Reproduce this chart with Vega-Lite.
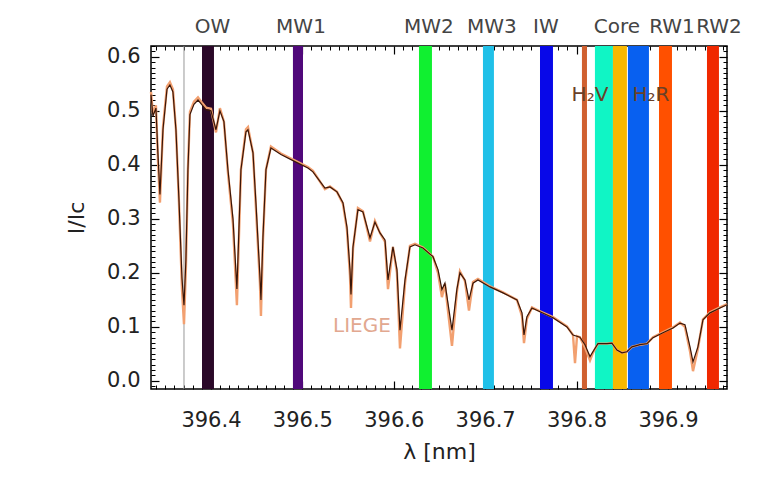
{
  "$schema": "https://vega.github.io/schema/vega-lite/v6.json",
  "width": 576,
  "height": 343,
  "autosize": {"type": "none"},
  "padding": {"left": 151, "top": 46, "right": 44, "bottom": 99},
  "background": "white",
  "config": {
    "view": {"stroke": "black", "strokeWidth": 1.5},
    "axis": {
      "labelFont": "DejaVu Sans", "titleFont": "DejaVu Sans", "grid": false,
      "domain": false, "tickColor": "#000",
      "labelColor": "#222", "titleColor": "#222", "labelFontSize": 21,
      "titleFontSize": 22, "titleFontWeight": "normal", "zindex": 1
    },
    "text": {"font": "DejaVu Sans"}
  },
  "datasets": {
    "obs": [
      {"w":396.3344,"v":0.530},{"w":396.3365,"v":0.490},{"w":396.3398,"v":0.505},{"w":396.3420,"v":0.420},{"w":396.3442,"v":0.345},{"w":396.3475,"v":0.465},{"w":396.3519,"v":0.540},{"w":396.3551,"v":0.548},{"w":396.3584,"v":0.535},{"w":396.3617,"v":0.465},{"w":396.3650,"v":0.335},{"w":396.3683,"v":0.190},{"w":396.3705,"v":0.140},{"w":396.3726,"v":0.224},{"w":396.3748,"v":0.391},{"w":396.3770,"v":0.493},{"w":396.3814,"v":0.512},{"w":396.3858,"v":0.520},{"w":396.3902,"v":0.511},{"w":396.3945,"v":0.502},{"w":396.4000,"v":0.500},{"w":396.4055,"v":0.465},{"w":396.4098,"v":0.500},{"w":396.4142,"v":0.480},{"w":396.4186,"v":0.391},{"w":396.4241,"v":0.300},{"w":396.4284,"v":0.170},{"w":396.4328,"v":0.391},{"w":396.4383,"v":0.461},{"w":396.4405,"v":0.465},{"w":396.4460,"v":0.422},{"w":396.4492,"v":0.330},{"w":396.4536,"v":0.193},{"w":396.4547,"v":0.150},{"w":396.4569,"v":0.267},{"w":396.4602,"v":0.391},{"w":396.4656,"v":0.431},{"w":396.4766,"v":0.419},{"w":396.4919,"v":0.406},{"w":396.5061,"v":0.394},{"w":396.5116,"v":0.387},{"w":396.5247,"v":0.357},{"w":396.5302,"v":0.359},{"w":396.5379,"v":0.350},{"w":396.5444,"v":0.330},{"w":396.5488,"v":0.285},{"w":396.5521,"v":0.206},{"w":396.5532,"v":0.160},{"w":396.5554,"v":0.248},{"w":396.5608,"v":0.317},{"w":396.5663,"v":0.313},{"w":396.5740,"v":0.265},{"w":396.5794,"v":0.294},{"w":396.5849,"v":0.274},{"w":396.5904,"v":0.261},{"w":396.5937,"v":0.187},{"w":396.5991,"v":0.248},{"w":396.6035,"v":0.206},{"w":396.6068,"v":0.094},{"w":396.6123,"v":0.187},{"w":396.6177,"v":0.248},{"w":396.6232,"v":0.252},{"w":396.6319,"v":0.246},{"w":396.6429,"v":0.230},{"w":396.6484,"v":0.206},{"w":396.6527,"v":0.169},{"w":396.6560,"v":0.181},{"w":396.6593,"v":0.144},{"w":396.6637,"v":0.094},{"w":396.6691,"v":0.170},{"w":396.6724,"v":0.200},{"w":396.6779,"v":0.187},{"w":396.6823,"v":0.150},{"w":396.6867,"v":0.181},{"w":396.6921,"v":0.187},{"w":396.7053,"v":0.174},{"w":396.7195,"v":0.163},{"w":396.7348,"v":0.150},{"w":396.7403,"v":0.126},{"w":396.7425,"v":0.085},{"w":396.7457,"v":0.119},{"w":396.7512,"v":0.135},{"w":396.7600,"v":0.128},{"w":396.7742,"v":0.117},{"w":396.7895,"v":0.100},{"w":396.7961,"v":0.085},{"w":396.8037,"v":0.081},{"w":396.8092,"v":0.067},{"w":396.8147,"v":0.045},{"w":396.8179,"v":0.054},{"w":396.8234,"v":0.069},{"w":396.8333,"v":0.069},{"w":396.8387,"v":0.070},{"w":396.8442,"v":0.057},{"w":396.8497,"v":0.052},{"w":396.8551,"v":0.054},{"w":396.8606,"v":0.063},{"w":396.8694,"v":0.067},{"w":396.8770,"v":0.069},{"w":396.8836,"v":0.080},{"w":396.8945,"v":0.089},{"w":396.9055,"v":0.098},{"w":396.9131,"v":0.107},{"w":396.9186,"v":0.104},{"w":396.9241,"v":0.063},{"w":396.9274,"v":0.035},{"w":396.9328,"v":0.063},{"w":396.9383,"v":0.113},{"w":396.9460,"v":0.126},{"w":396.9569,"v":0.135},{"w":396.9646,"v":0.141}
    ],
    "liege": [
      {"w":396.3344,"v":0.535},{"w":396.3365,"v":0.495},{"w":396.3398,"v":0.510},{"w":396.3420,"v":0.410},{"w":396.3442,"v":0.330},{"w":396.3475,"v":0.470},{"w":396.3519,"v":0.545},{"w":396.3551,"v":0.553},{"w":396.3584,"v":0.540},{"w":396.3617,"v":0.465},{"w":396.3650,"v":0.330},{"w":396.3683,"v":0.170},{"w":396.3705,"v":0.105},{"w":396.3726,"v":0.210},{"w":396.3748,"v":0.391},{"w":396.3770,"v":0.498},{"w":396.3814,"v":0.517},{"w":396.3858,"v":0.525},{"w":396.3902,"v":0.515},{"w":396.3945,"v":0.506},{"w":396.4000,"v":0.504},{"w":396.4055,"v":0.460},{"w":396.4098,"v":0.505},{"w":396.4142,"v":0.480},{"w":396.4186,"v":0.385},{"w":396.4241,"v":0.290},{"w":396.4284,"v":0.140},{"w":396.4328,"v":0.391},{"w":396.4383,"v":0.466},{"w":396.4405,"v":0.470},{"w":396.4460,"v":0.422},{"w":396.4492,"v":0.320},{"w":396.4536,"v":0.180},{"w":396.4547,"v":0.120},{"w":396.4569,"v":0.260},{"w":396.4602,"v":0.391},{"w":396.4656,"v":0.434},{"w":396.4766,"v":0.421},{"w":396.4919,"v":0.408},{"w":396.5061,"v":0.396},{"w":396.5116,"v":0.389},{"w":396.5247,"v":0.355},{"w":396.5302,"v":0.360},{"w":396.5379,"v":0.350},{"w":396.5444,"v":0.328},{"w":396.5488,"v":0.280},{"w":396.5521,"v":0.195},{"w":396.5532,"v":0.135},{"w":396.5554,"v":0.245},{"w":396.5608,"v":0.320},{"w":396.5663,"v":0.314},{"w":396.5740,"v":0.258},{"w":396.5794,"v":0.296},{"w":396.5849,"v":0.274},{"w":396.5904,"v":0.258},{"w":396.5937,"v":0.170},{"w":396.5991,"v":0.248},{"w":396.6035,"v":0.200},{"w":396.6068,"v":0.060},{"w":396.6123,"v":0.180},{"w":396.6177,"v":0.250},{"w":396.6232,"v":0.254},{"w":396.6319,"v":0.247},{"w":396.6429,"v":0.230},{"w":396.6484,"v":0.200},{"w":396.6527,"v":0.155},{"w":396.6560,"v":0.180},{"w":396.6593,"v":0.130},{"w":396.6637,"v":0.065},{"w":396.6691,"v":0.165},{"w":396.6724,"v":0.203},{"w":396.6779,"v":0.185},{"w":396.6823,"v":0.130},{"w":396.6867,"v":0.183},{"w":396.6921,"v":0.189},{"w":396.7053,"v":0.175},{"w":396.7195,"v":0.164},{"w":396.7348,"v":0.150},{"w":396.7403,"v":0.120},{"w":396.7425,"v":0.070},{"w":396.7457,"v":0.115},{"w":396.7512,"v":0.136},{"w":396.7600,"v":0.129},{"w":396.7742,"v":0.118},{"w":396.7895,"v":0.101},{"w":396.7961,"v":0.085},{"w":396.7983,"v":0.033},{"w":396.8005,"v":0.083},{"w":396.8037,"v":0.081},{"w":396.8092,"v":0.062},{"w":396.8147,"v":0.038},{"w":396.8179,"v":0.052},{"w":396.8234,"v":0.069},{"w":396.8333,"v":0.069},{"w":396.8387,"v":0.070},{"w":396.8442,"v":0.057},{"w":396.8497,"v":0.052},{"w":396.8551,"v":0.054},{"w":396.8606,"v":0.063},{"w":396.8694,"v":0.067},{"w":396.8770,"v":0.069},{"w":396.8836,"v":0.081},{"w":396.8945,"v":0.090},{"w":396.9055,"v":0.099},{"w":396.9131,"v":0.108},{"w":396.9186,"v":0.100},{"w":396.9241,"v":0.055},{"w":396.9274,"v":0.018},{"w":396.9328,"v":0.060},{"w":396.9383,"v":0.114},{"w":396.9460,"v":0.127},{"w":396.9569,"v":0.136},{"w":396.9646,"v":0.142}
    ],
    "bands": [
      {"b":"OW","lo":396.3902,"hi":396.4033},
      {"b":"MW1","lo":396.4897,"hi":396.5007},
      {"b":"MW2","lo":396.6276,"hi":396.6418},
      {"b":"MW3","lo":396.6976,"hi":396.7096},
      {"b":"IW","lo":396.7600,"hi":396.7742},
      {"b":"H2V","lo":396.8059,"hi":396.8114},
      {"b":"H2Vb","lo":396.8201,"hi":396.8398},
      {"b":"Core","lo":396.8398,"hi":396.8551},
      {"b":"H2R","lo":396.8562,"hi":396.8792},
      {"b":"RW1","lo":396.8902,"hi":396.9044},
      {"b":"RW2","lo":396.9427,"hi":396.9558}
    ],
    "marker": [{"w":396.3705}],
    "bandLabels": [
      {"t":"OW","w":396.4016,"v":0.656},
      {"t":"MW1","w":396.4985,"v":0.656},
      {"t":"MW2","w":396.6385,"v":0.656},
      {"t":"MW3","w":396.7074,"v":0.656},
      {"t":"IW","w":396.7665,"v":0.656},
      {"t":"Core","w":396.8442,"v":0.656},
      {"t":"RW1","w":396.9044,"v":0.656},
      {"t":"RW2","w":396.9558,"v":0.656}
    ],
    "notes": [
      {"t":"H₂V","w":396.8147,"v":0.530,"k":"h"},
      {"t":"H₂R","w":396.8814,"v":0.530,"k":"h"},
      {"t":"LIEGE","w":396.5652,"v":0.102,"k":"l"}
    ]
  },
  "resolve": {"axis": {"x": "independent", "y": "independent"}, "scale": {"color": "independent"}},
  "layer": [
    {
      "data": {"name": "bands"},
      "mark": {"type": "rect"},
      "encoding": {
        "x": {"field": "lo", "type": "quantitative", "scale": {"domain": [396.3344, 396.9646], "nice": false, "zero": false}, "axis": null},
        "x2": {"field": "hi"},
        "color": {"field": "b", "type": "nominal", "legend": null,
          "scale": {"domain": ["OW","MW1","MW2","MW3","IW","H2V","H2Vb","Core","H2R","RW1","RW2"],
                    "range": ["#2a0828","#50087a","#10f030","#20c0e8","#0808e8","#d06030","#10f5c5","#f8b800","#0860f0","#ff5000","#f02800"]}}
      }
    },
    {
      "data": {"name": "marker"},
      "mark": {"type": "rule", "color": "#999999", "strokeWidth": 1},
      "encoding": {
        "x": {"field": "w", "type": "quantitative", "scale": {"domain": [396.3344, 396.9646], "nice": false, "zero": false}, "axis": null}
      }
    },
    {
      "data": {"name": "liege"},
      "mark": {"type": "line", "color": "#f2a070", "strokeWidth": 2.4},
      "encoding": {
        "x": {"field": "w", "type": "quantitative", "scale": {"domain": [396.3344, 396.9646], "nice": false, "zero": false},
          "axis": {"orient": "bottom", "values": [396.4,396.5,396.6,396.7,396.8,396.9], "format": ".1f", "offset": -8, "tickSize": 8, "tickWidth": 1.2, "labelPadding": 20, "title": "λ [nm]", "titlePadding": 11}},
        "y": {"field": "v", "type": "quantitative", "scale": {"domain": [-0.015, 0.62], "nice": false, "zero": false},
          "axis": {"orient": "left", "values": [0,0.1,0.2,0.3,0.4,0.5,0.6], "format": ".1f", "offset": -8, "tickSize": 8, "tickWidth": 1.2, "labelPadding": 11, "title": "I/Iᴄ", "titlePadding": 18}}
      }
    },
    {
      "data": {"name": "obs"},
      "mark": {"type": "line", "color": "#3a1608", "strokeWidth": 1.2},
      "encoding": {
        "x": {"field": "w", "type": "quantitative", "scale": {"domain": [396.3344, 396.9646], "nice": false, "zero": false},
          "axis": {"orient": "top", "values": [396.4,396.5,396.6,396.7,396.8,396.9], "offset": -8, "tickSize": 8, "tickWidth": 1.2, "labels": false, "title": null}},
        "y": {"field": "v", "type": "quantitative", "scale": {"domain": [-0.015, 0.62], "nice": false, "zero": false},
          "axis": {"orient": "right", "values": [0,0.1,0.2,0.3,0.4,0.5,0.6], "offset": -8, "tickSize": 8, "tickWidth": 1.2, "labels": false, "title": null}}
      }
    },
    {
      "data": {"name": "notes"},
      "mark": {"type": "text", "fontSize": 20, "align": "center", "baseline": "middle"},
      "encoding": {
        "x": {"field": "w", "type": "quantitative", "scale": {"domain": [396.3344, 396.9646], "nice": false, "zero": false},
          "axis": {"orient": "bottom", "values": [396.34,396.35,396.36,396.37,396.38,396.39,396.41,396.42,396.43,396.44,396.45,396.46,396.47,396.48,396.49,396.51,396.52,396.53,396.54,396.55,396.56,396.57,396.58,396.59,396.61,396.62,396.63,396.64,396.65,396.66,396.67,396.68,396.69,396.71,396.72,396.73,396.74,396.75,396.76,396.77,396.78,396.79,396.81,396.82,396.83,396.84,396.85,396.86,396.87,396.88,396.89,396.91,396.92,396.93,396.94,396.95,396.96], "offset": -4, "tickSize": 4, "labels": false, "title": null}},
        "y": {"field": "v", "type": "quantitative", "scale": {"domain": [-0.015, 0.62], "nice": false, "zero": false},
          "axis": {"orient": "left", "values": [-0.01,0.01,0.02,0.03,0.04,0.05,0.06,0.07,0.08,0.09,0.11,0.12,0.13,0.14,0.15,0.16,0.17,0.18,0.19,0.21,0.22,0.23,0.24,0.25,0.26,0.27,0.28,0.29,0.31,0.32,0.33,0.34,0.35,0.36,0.37,0.38,0.39,0.41,0.42,0.43,0.44,0.45,0.46,0.47,0.48,0.49,0.51,0.52,0.53,0.54,0.55,0.56,0.57,0.58,0.59,0.61,0.62], "offset": -4, "tickSize": 4, "labels": false, "title": null}},
        "text": {"field": "t"},
        "color": {"field": "k", "type": "nominal", "legend": null, "scale": {"domain": ["h","l"], "range": ["#6a4028","#e2a890"]}}
      }
    },
    {
      "data": {"name": "bandLabels"},
      "mark": {"type": "text", "fontSize": 20, "align": "center", "baseline": "middle", "color": "#444444"},
      "encoding": {
        "x": {"field": "w", "type": "quantitative", "scale": {"domain": [396.3344, 396.9646], "nice": false, "zero": false},
          "axis": {"orient": "top", "values": [396.34,396.35,396.36,396.37,396.38,396.39,396.41,396.42,396.43,396.44,396.45,396.46,396.47,396.48,396.49,396.51,396.52,396.53,396.54,396.55,396.56,396.57,396.58,396.59,396.61,396.62,396.63,396.64,396.65,396.66,396.67,396.68,396.69,396.71,396.72,396.73,396.74,396.75,396.76,396.77,396.78,396.79,396.81,396.82,396.83,396.84,396.85,396.86,396.87,396.88,396.89,396.91,396.92,396.93,396.94,396.95,396.96], "offset": -4, "tickSize": 4, "labels": false, "title": null}},
        "y": {"field": "v", "type": "quantitative", "scale": {"domain": [-0.015, 0.62], "nice": false, "zero": false},
          "axis": {"orient": "right", "values": [-0.01,0.01,0.02,0.03,0.04,0.05,0.06,0.07,0.08,0.09,0.11,0.12,0.13,0.14,0.15,0.16,0.17,0.18,0.19,0.21,0.22,0.23,0.24,0.25,0.26,0.27,0.28,0.29,0.31,0.32,0.33,0.34,0.35,0.36,0.37,0.38,0.39,0.41,0.42,0.43,0.44,0.45,0.46,0.47,0.48,0.49,0.51,0.52,0.53,0.54,0.55,0.56,0.57,0.58,0.59,0.61,0.62], "offset": -4, "tickSize": 4, "labels": false, "title": null}},
        "text": {"field": "t"}
      }
    }
  ]
}
